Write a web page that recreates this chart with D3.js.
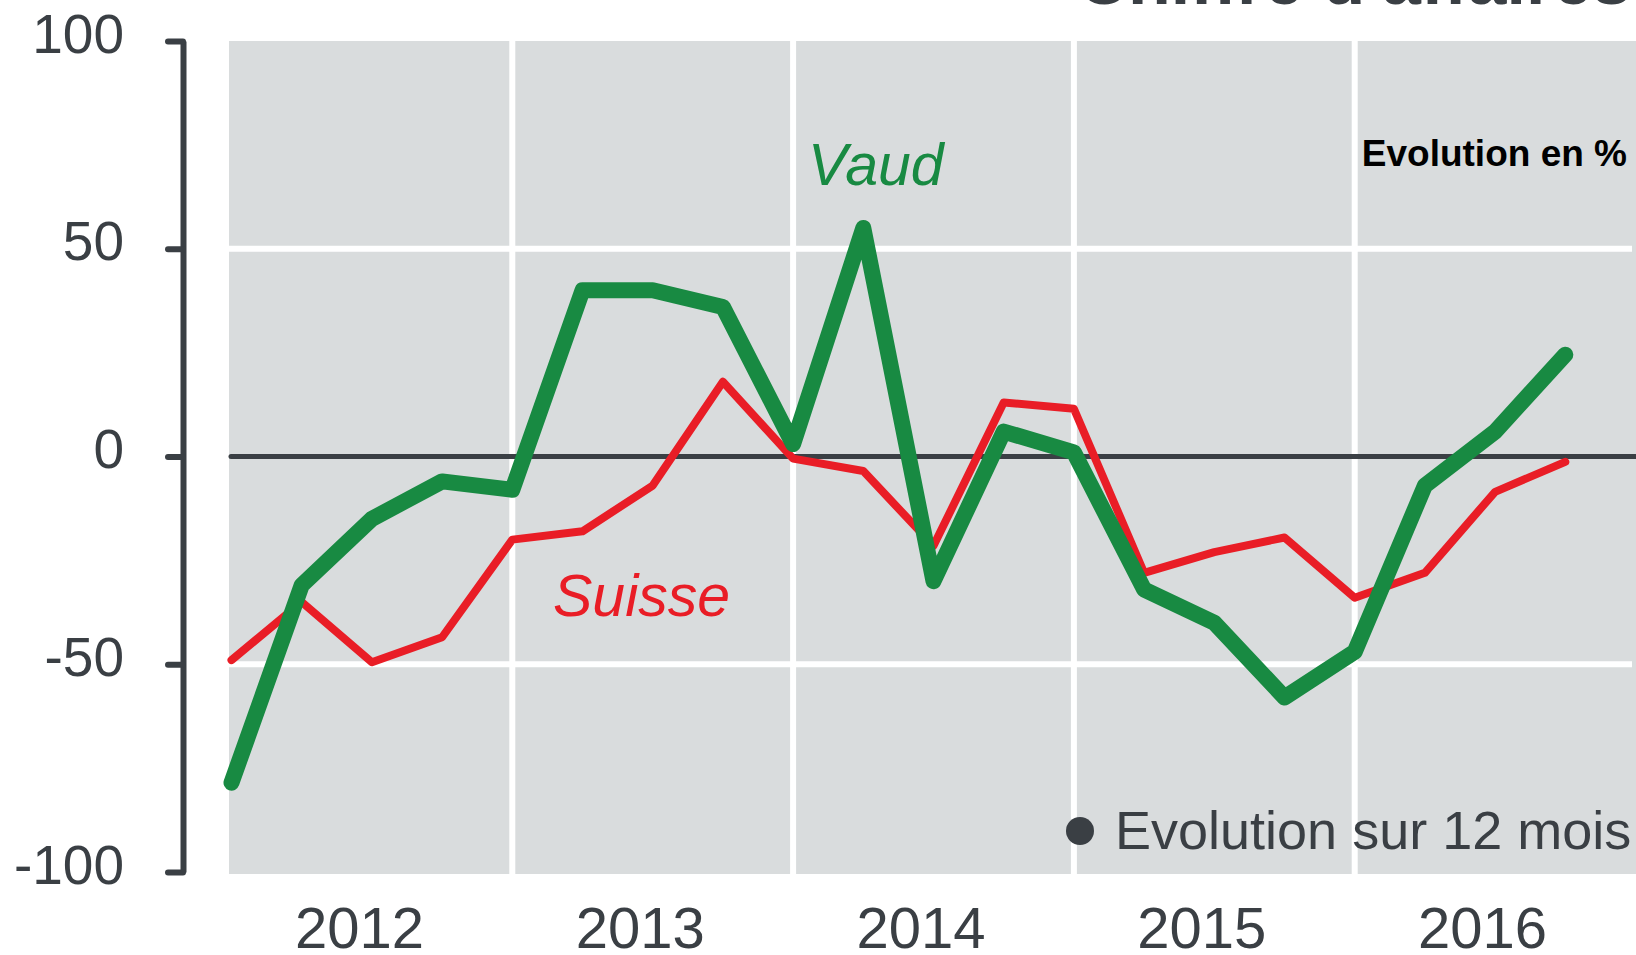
<!DOCTYPE html>
<html>
<head>
<meta charset="utf-8">
<script src="https://cdn.jsdelivr.net/npm/d3@7"></script>
<style>
  body { margin: 0; background: #fff; }
  svg { display: block; font-family: "Liberation Sans", Arial, sans-serif; }
</style>
</head>
<body>
<svg id="chart" width="1636" height="955"></svg>
<script>
// quarterly data, 2012 T1 .. 2016 T4
const years = [2012, 2013, 2014, 2015, 2016];
const quarters = ["T1", "T2", "T3", "T4"];
const periods = years.flatMap(y => quarters.map(q => y + " " + q));

const vaud = [-78.5, -31, -15, -6, -8, 40, 40, 36, 3, 55,
              -30, 6, 1, -32, -40, -58, -47, -7, 6, 24.5];
const suisse = [-49, -35, -49.5, -43.5, -20, -18, -7, 18, -0.5, -3.5,
                -21.5, 13, 11.5, -28, -23, -19.5, -34, -28, -8.5, -1.3];

const yTicks = [100, 50, 0, -50, -100];
const gridValues = [50, -50];

const dark = "#3a3f44";
const green = "#188a42";
const red = "#e91d26";

const width = 1636, height = 955;
const svg = d3.select("#chart");

const x = d3.scaleLinear().domain([0, periods.length]).range([231.5, 1635.5]);
const y = d3.scaleLinear().domain([-100, 100]).range([872, 41]);

const panelLeft = 229, panelTop = 41, panelBottom = 874;

// grey panel
svg.append("rect")
    .attr("x", panelLeft)
    .attr("y", panelTop)
    .attr("width", width - panelLeft)
    .attr("height", panelBottom - panelTop)
    .attr("fill", "#d9dcdd");

// white grid: year separators + 50 / -50
svg.append("g")
    .selectAll("line")
    .data(years.slice(1))
    .join("line")
    .attr("x1", (d, i) => x((i + 1) * 4))
    .attr("x2", (d, i) => x((i + 1) * 4))
    .attr("y1", panelTop)
    .attr("y2", panelBottom)
    .attr("stroke", "#fff")
    .attr("stroke-width", 6);

svg.append("g")
    .selectAll("line")
    .data(gridValues)
    .join("line")
    .attr("x1", panelLeft)
    .attr("x2", width - 4)
    .attr("y1", d => y(d))
    .attr("y2", d => y(d))
    .attr("stroke", "#fff")
    .attr("stroke-width", 6);

// zero line
svg.append("line")
    .attr("x1", panelLeft + 2)
    .attr("x2", width)
    .attr("y1", y(0))
    .attr("y2", y(0))
    .attr("stroke", dark)
    .attr("stroke-width", 5)
    .attr("stroke-linecap", "round");

// y axis (plain hyphen for negatives, like the original)
const yAxis = svg.append("g")
    .attr("transform", "translate(183,0)")
    .call(d3.axisLeft(y)
        .tickValues(yTicks)
        .tickFormat(d => String(d))
        .tickSize(15)
        .tickSizeOuter(0)
        .tickPadding(44));

yAxis.select(".domain")
    .attr("stroke", dark)
    .attr("stroke-width", 6);
yAxis.selectAll(".tick line")
    .attr("stroke", dark)
    .attr("stroke-width", 6)
    .attr("stroke-linecap", "round");
yAxis.selectAll(".tick text")
    .attr("fill", dark)
    .attr("dy", "0.2em")
    .style("font-size", "55px");

// x axis: year labels
const xAxis = svg.append("g")
    .attr("transform", "translate(-13,900)")
    .call(d3.axisBottom(x)
        .tickValues(years.map((d, i) => i * 4 + 2))
        .tickFormat((d, i) => years[i])
        .tickSize(0)
        .tickPadding(0));
xAxis.select(".domain").remove();
xAxis.selectAll(".tick text")
    .attr("fill", dark)
    .attr("dy", "48px")
    .style("font-size", "58px");

// lines
const line = d3.line()
    .x((d, i) => x(i))
    .y(d => y(d));

svg.append("path")
    .datum(suisse)
    .attr("d", line)
    .attr("fill", "none")
    .attr("stroke", red)
    .attr("stroke-width", 8)
    .attr("stroke-linejoin", "round")
    .attr("stroke-linecap", "round");

svg.append("path")
    .datum(vaud)
    .attr("d", line)
    .attr("fill", "none")
    .attr("stroke", green)
    .attr("stroke-width", 16)
    .attr("stroke-linejoin", "round")
    .attr("stroke-linecap", "round");

// series labels
svg.append("text")
    .attr("x", 808)
    .attr("y", 185)
    .attr("fill", green)
    .style("font-size", "59px")
    .style("font-style", "italic")
    .text("Vaud");

svg.append("text")
    .attr("x", 553)
    .attr("y", 616)
    .attr("fill", red)
    .style("font-size", "59px")
    .style("font-style", "italic")
    .text("Suisse");

svg.append("text")
    .attr("x", 1627)
    .attr("y", 166)
    .attr("text-anchor", "end")
    .attr("fill", "#000")
    .style("font-size", "37px")
    .style("font-weight", "bold")
    .text("Evolution en %");

// title, cut by the top edge
svg.append("text")
    .attr("x", 1631)
    .attr("y", 4)
    .attr("text-anchor", "end")
    .attr("fill", dark)
    .style("font-size", "70px")
    .style("font-weight", "bold")
    .text("Chiffre d'affaires");

// legend
svg.append("circle")
    .attr("cx", 1080)
    .attr("cy", 831)
    .attr("r", 14)
    .attr("fill", dark);

svg.append("text")
    .attr("x", 1115)
    .attr("y", 849)
    .attr("fill", dark)
    .style("font-size", "54px")
    .text("Evolution sur 12 mois");
</script>
</body>
</html>
